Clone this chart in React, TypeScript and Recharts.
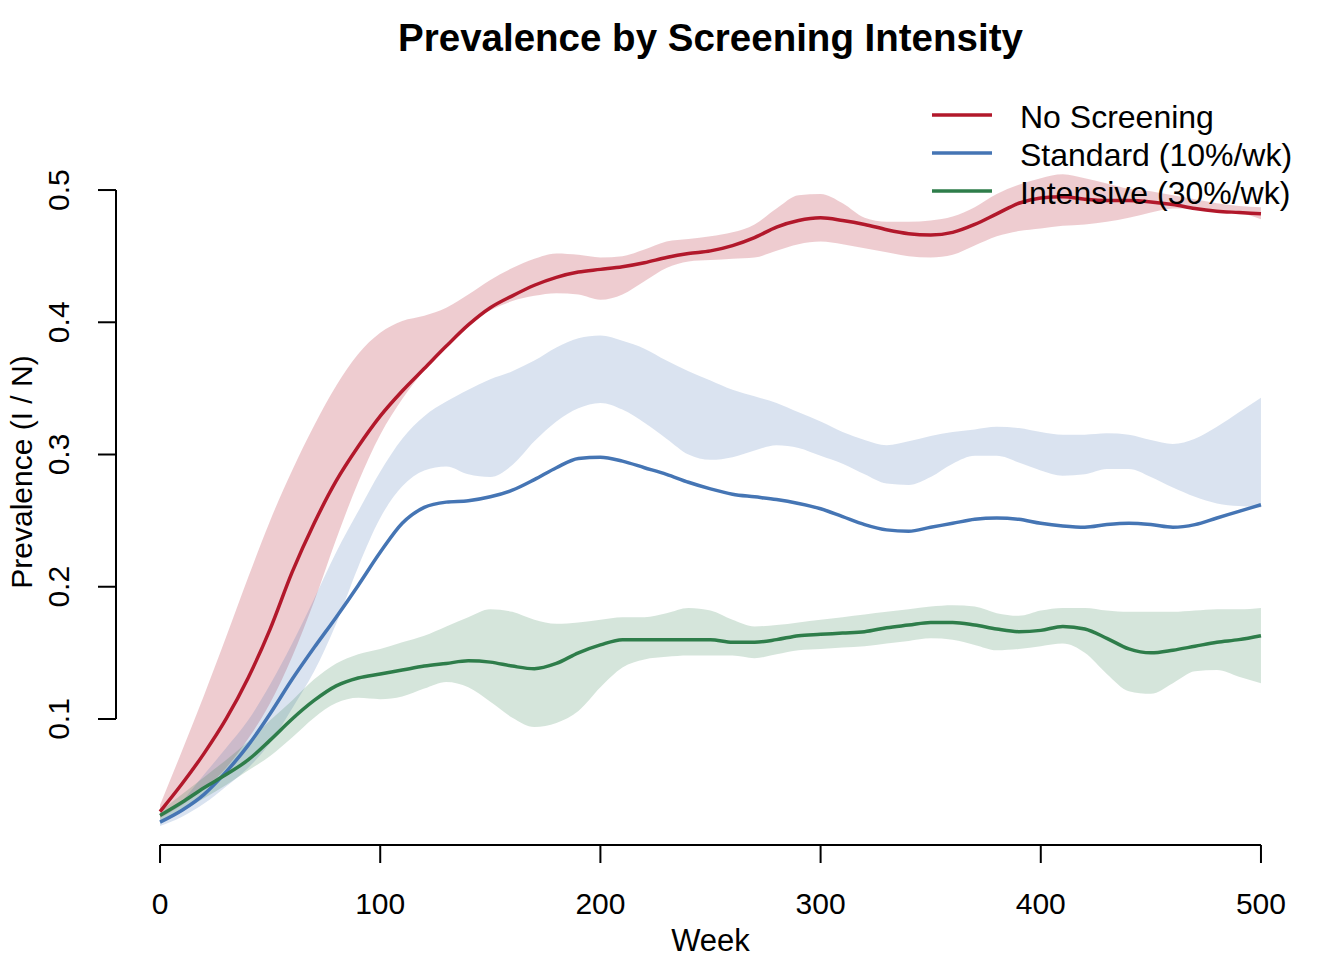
import React from "react";
import { ComposedChart, Area, Line, XAxis, YAxis, ReferenceLine } from "recharts";

const FONT = '"Liberation Sans", Arial, Helvetica, sans-serif';

const weeks = [
  0, 10, 20, 30, 40, 50, 60, 70, 80, 90,
  100, 110, 120, 130, 140, 150, 160, 170, 180, 190,
  200, 210, 220, 230, 240, 250, 260, 270, 280, 290,
  300, 310, 320, 330, 340, 350, 360, 370, 380, 390,
  400, 410, 420, 430, 440, 450, 460, 470, 480, 490,
  500,
];

const noScreeningMean = [
  0.030, 0.051, 0.074, 0.100, 0.131, 0.168, 0.211, 0.248, 0.280, 0.306,
  0.329, 0.348, 0.365, 0.382, 0.398, 0.411, 0.420, 0.428, 0.434, 0.438,
  0.440, 0.442, 0.445, 0.449, 0.452, 0.454, 0.458, 0.464, 0.472, 0.477,
  0.479, 0.477, 0.474, 0.470, 0.467, 0.466, 0.468, 0.474, 0.482, 0.490,
  0.494, 0.495, 0.493, 0.492, 0.492, 0.491, 0.489, 0.486, 0.484, 0.483,
  0.482,
];
const noScreeningHigh = [
  0.035, 0.076, 0.118, 0.162, 0.207, 0.250, 0.288, 0.322, 0.352, 0.376,
  0.392, 0.401, 0.405, 0.411, 0.421, 0.432, 0.441, 0.448, 0.452, 0.451,
  0.449, 0.450, 0.455, 0.461, 0.463, 0.465, 0.468, 0.474, 0.486, 0.496,
  0.497, 0.490, 0.479, 0.476, 0.476, 0.477, 0.480, 0.487, 0.497, 0.504,
  0.509, 0.512, 0.509, 0.505, 0.501, 0.499, 0.496, 0.493, 0.490, 0.488,
  0.487,
];
const noScreeningLow = [
  0.025, 0.035, 0.047, 0.063, 0.085, 0.112, 0.147, 0.189, 0.236, 0.279,
  0.315, 0.342, 0.364, 0.384, 0.399, 0.409, 0.416, 0.420, 0.422, 0.421,
  0.417, 0.421, 0.431, 0.441, 0.446, 0.447, 0.448, 0.449, 0.454, 0.459,
  0.461, 0.459, 0.456, 0.453, 0.450, 0.449, 0.451, 0.458, 0.465, 0.469,
  0.471, 0.473, 0.474, 0.476, 0.479, 0.483, 0.486, 0.486, 0.485, 0.483,
  0.478,
];

const standardMean = [
  0.022, 0.031, 0.043, 0.060, 0.080, 0.104, 0.130, 0.154, 0.177, 0.201,
  0.226, 0.248, 0.260, 0.264, 0.265, 0.268, 0.273, 0.281, 0.290, 0.297,
  0.298, 0.295, 0.290, 0.285, 0.279, 0.274, 0.270, 0.268, 0.266, 0.263,
  0.259, 0.253, 0.247, 0.243, 0.242, 0.245, 0.248, 0.251, 0.252, 0.251,
  0.248, 0.246, 0.245, 0.247, 0.248, 0.247, 0.245, 0.247, 0.252, 0.257,
  0.262,
];
const standardHigh = [
  0.025, 0.038, 0.058, 0.078, 0.099, 0.126, 0.157, 0.191, 0.226, 0.257,
  0.287, 0.312, 0.329, 0.340, 0.349, 0.357, 0.363, 0.371, 0.381, 0.388,
  0.390, 0.386, 0.380, 0.371, 0.363, 0.356, 0.349, 0.344, 0.339, 0.332,
  0.325, 0.317, 0.311, 0.307, 0.310, 0.314, 0.317, 0.319, 0.321, 0.320,
  0.317, 0.315, 0.315, 0.316, 0.315, 0.311, 0.308, 0.312, 0.321, 0.332,
  0.343,
];
const standardLow = [
  0.019, 0.026, 0.036, 0.049, 0.063, 0.082, 0.108, 0.136, 0.172, 0.215,
  0.252, 0.276, 0.288, 0.291, 0.285, 0.283, 0.292, 0.310, 0.325, 0.335,
  0.339, 0.334, 0.324, 0.312, 0.300, 0.296, 0.298, 0.303, 0.307, 0.305,
  0.299, 0.293, 0.285, 0.278, 0.277, 0.283, 0.293, 0.299, 0.299, 0.294,
  0.288, 0.284, 0.285, 0.289, 0.289, 0.283, 0.275, 0.268, 0.263, 0.261,
  0.260,
];

const intensiveMean = [
  0.027, 0.037, 0.048, 0.058, 0.069, 0.084, 0.100, 0.114, 0.125, 0.131,
  0.134, 0.137, 0.140, 0.142, 0.144, 0.143, 0.140, 0.138, 0.142, 0.150,
  0.156, 0.160, 0.160, 0.160, 0.160, 0.160, 0.158, 0.158, 0.160, 0.163,
  0.164, 0.165, 0.166, 0.169, 0.171, 0.173, 0.173, 0.171, 0.168, 0.166,
  0.167, 0.170, 0.168, 0.161, 0.153, 0.150, 0.152, 0.155, 0.158, 0.160,
  0.163,
];
const intensiveHigh = [
  0.030, 0.043, 0.056, 0.069, 0.083, 0.099, 0.114, 0.130, 0.142, 0.149,
  0.153, 0.158, 0.163, 0.170, 0.177, 0.183, 0.181, 0.175, 0.172, 0.173,
  0.175, 0.177, 0.177, 0.180, 0.184, 0.182, 0.175, 0.170, 0.171, 0.173,
  0.175, 0.177, 0.179, 0.181, 0.183, 0.185, 0.186, 0.185, 0.180, 0.178,
  0.182, 0.184, 0.184, 0.182, 0.181, 0.181, 0.181, 0.182, 0.183, 0.183,
  0.184,
];
const intensiveLow = [
  0.022, 0.030, 0.040, 0.050, 0.061, 0.072, 0.086, 0.101, 0.112, 0.116,
  0.115, 0.117, 0.123, 0.128, 0.124, 0.113, 0.101, 0.094, 0.097, 0.106,
  0.124, 0.139, 0.145, 0.147, 0.148, 0.148, 0.148, 0.146, 0.149, 0.152,
  0.153, 0.154, 0.155, 0.157, 0.159, 0.161, 0.160, 0.156, 0.152, 0.153,
  0.155, 0.157, 0.150, 0.134, 0.121, 0.119, 0.127, 0.136, 0.137, 0.132,
  0.127,
];

const xTicks = [0, 100, 200, 300, 400, 500];
const yTicks = [0.1, 0.2, 0.3, 0.4, 0.5];

const seriesNames = ["No Screening", "Standard (10%/wk)", "Intensive (30%/wk)"];
const seriesColors = ["#B2182B", "#4575B4", "#2E7D4A"];

const TITLE = "Prevalence by Screening Intensity";
const X_LABEL = "Week";
const Y_LABEL = "Prevalence (I / N)";

const X_DOMAIN: [number, number] = [-20, 520];
const Y_DOMAIN: [number, number] = [0.0047, 0.5696];

const data = weeks.map((week, i) => ({
  week,
  noMean: noScreeningMean[i],
  noBand: [noScreeningLow[i], noScreeningHigh[i]],
  stdMean: standardMean[i],
  stdBand: [standardLow[i], standardHigh[i]],
  intMean: intensiveMean[i],
  intBand: [intensiveLow[i], intensiveHigh[i]],
}));

const W = 1336;
const H = 952;
const margin = { top: 90, right: 39, bottom: 55, left: 48 };

function YTick(props: any) {
  const { x, y, payload } = props;
  return (
    <text
      x={x}
      y={y}
      dy="0.36em"
      textAnchor="middle"
      transform={`rotate(-90, ${x}, ${y})`}
      fontSize={30}
      fontFamily={FONT}
      fill="#000"
    >
      {Number(payload.value).toFixed(1)}
    </text>
  );
}

const legendLineY = [106.5, 144.8, 183.1];
const legendTextY = [108.7, 147, 185.2];

export default function App() {
  return (
    <div style={{ position: "relative", width: W, height: H, fontFamily: FONT, background: "#fff" }}>
      <ComposedChart width={W} height={H} data={data} margin={margin}>
        <XAxis
          dataKey="week"
          type="number"
          domain={X_DOMAIN}
          ticks={xTicks}
          allowDataOverflow
          axisLine={false}
          tickLine={{ stroke: "#000", strokeWidth: 2 }}
          tickSize={18}
          tickMargin={30}
          height={60}
          tick={{ fontSize: 30, fill: "#000", fontFamily: FONT }}
          stroke="#000"
        />
        <YAxis
          type="number"
          domain={Y_DOMAIN}
          ticks={yTicks}
          allowDataOverflow
          axisLine={false}
          tickLine={{ stroke: "#000", strokeWidth: 2 }}
          tickSize={18}
          tickMargin={40}
          width={60}
          tick={<YTick />}
          stroke="#000"
        />
        <Area type="monotone" dataKey="noBand" stroke="none" fill={seriesColors[0]} fillOpacity={0.22} isAnimationActive={false} activeDot={false} />
        <Area type="monotone" dataKey="stdBand" stroke="none" fill={seriesColors[1]} fillOpacity={0.2} isAnimationActive={false} activeDot={false} />
        <Area type="monotone" dataKey="intBand" stroke="none" fill={seriesColors[2]} fillOpacity={0.2} isAnimationActive={false} activeDot={false} />
        <Line type="monotone" dataKey="noMean" stroke={seriesColors[0]} strokeWidth={3.5} dot={false} isAnimationActive={false} />
        <Line type="monotone" dataKey="stdMean" stroke={seriesColors[1]} strokeWidth={3.5} dot={false} isAnimationActive={false} />
        <Line type="monotone" dataKey="intMean" stroke={seriesColors[2]} strokeWidth={3.5} dot={false} isAnimationActive={false} />
        <ReferenceLine
          segment={[{ x: xTicks[0], y: Y_DOMAIN[0] }, { x: xTicks[xTicks.length - 1], y: Y_DOMAIN[0] }]}
          stroke="#000"
          strokeWidth={2}
          ifOverflow="visible"
        />
        <ReferenceLine
          segment={[{ x: X_DOMAIN[0], y: yTicks[0] }, { x: X_DOMAIN[0], y: yTicks[yTicks.length - 1] }]}
          stroke="#000"
          strokeWidth={2}
          ifOverflow="visible"
        />
      </ComposedChart>

      <div
        style={{
          position: "absolute",
          left: 702.5 - 500,
          top: 11,
          width: 1000,
          textAlign: "center",
          fontSize: 38.5,
          lineHeight: "38.5px",
          fontWeight: "bold",
          color: "#000",
          whiteSpace: "nowrap",
        }}
      >
        {TITLE}
      </div>

      <div
        style={{
          position: "absolute",
          left: 702.5 - 200,
          top: 917,
          width: 400,
          textAlign: "center",
          fontSize: 31,
          lineHeight: "31px",
          color: "#000",
        }}
      >
        {X_LABEL}
      </div>

      <div
        style={{
          position: "absolute",
          left: 14 - 200,
          top: 463.5 - 15,
          width: 400,
          height: 30,
          textAlign: "center",
          fontSize: 30,
          lineHeight: "30px",
          color: "#000",
          transform: "rotate(-90deg)",
          whiteSpace: "nowrap",
        }}
      >
        {Y_LABEL}
      </div>

      {seriesNames.map((name, i) => (
        <React.Fragment key={name}>
          <svg
            width={60}
            height={10}
            style={{ position: "absolute", left: 924, top: legendLineY[i] - 5, display: "block" }}
          >
            <line x1={0} y1={5} x2={60} y2={5} stroke={seriesColors[i]} strokeWidth={3.5} />
          </svg>
          <div
            style={{
              position: "absolute",
              left: 1012,
              top: legendTextY[i] - 16,
              height: 32,
              fontSize: 32,
              lineHeight: "32px",
              color: "#000",
              whiteSpace: "nowrap",
            }}
          >
            {name}
          </div>
        </React.Fragment>
      ))}
    </div>
  );
}
